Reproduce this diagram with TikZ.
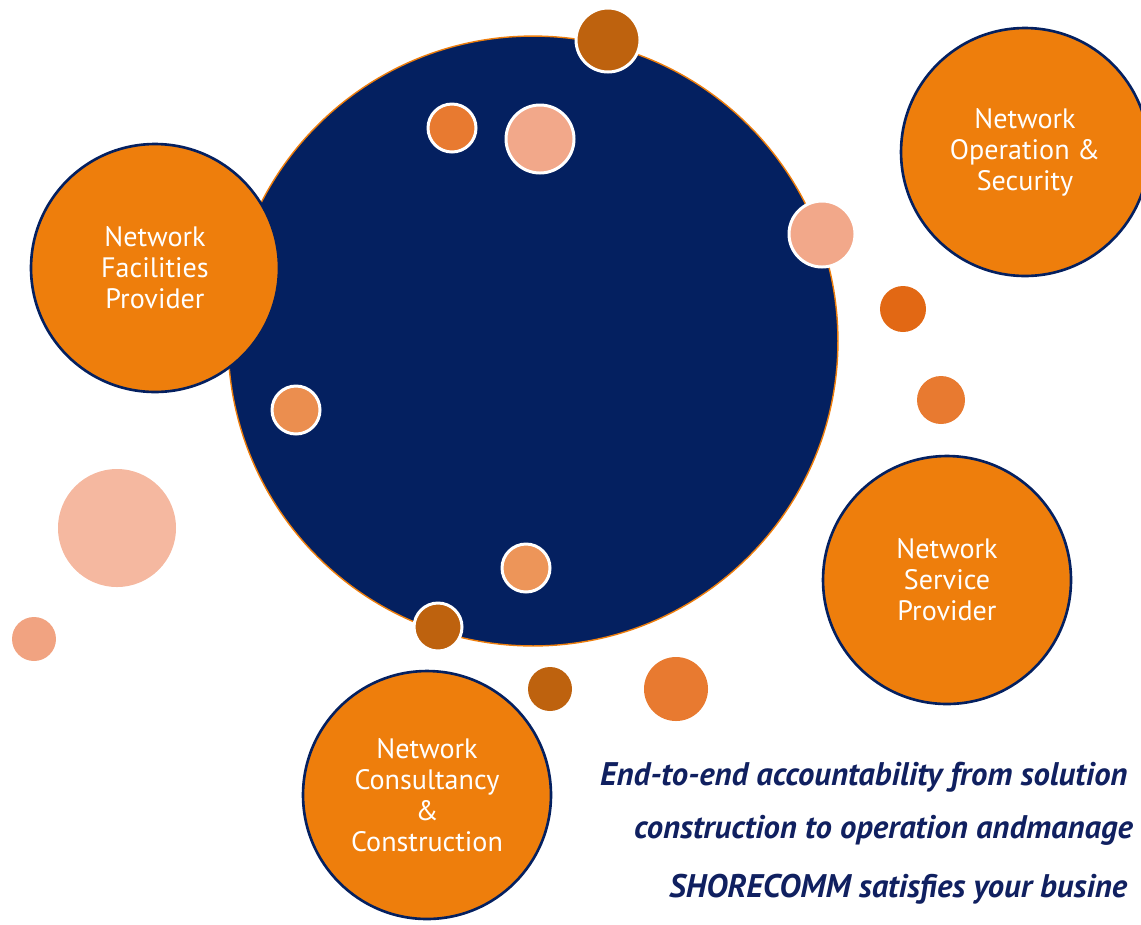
\documentclass[tikz,border=0pt]{standalone}
\usepackage{fontspec}
\setmainfont{PT Sans}
\usepackage{tikz}
\usetikzlibrary{positioning}

\definecolor{navy}{RGB}{4,32,96}
\definecolor{textnavy}{RGB}{16,32,96}
\definecolor{sorange}{RGB}{238,126,12}
\definecolor{brown}{RGB}{190,98,14}
\definecolor{midorange}{RGB}{232,122,48}
\definecolor{deeporange}{RGB}{226,104,20}
\definecolor{salmon}{RGB}{242,168,138}
\definecolor{pale}{RGB}{245,184,160}

\begin{document}
\begin{tikzpicture}[
    x=0.02cm, y=-0.02cm,
    hub/.style={circle, fill=navy, draw=sorange, line width=0.8pt,
                minimum size=12.2cm, inner sep=0pt},
    service/.style={circle, fill=sorange, draw=navy, line width=1.5pt,
                    minimum size=4.96cm, inner sep=0pt, align=center,
                    text=white, font=\fontsize{16}{17.6}\selectfont},
    bubble/.style={circle, draw=white, line width=1.7pt, inner sep=0pt},
    spot/.style={circle, inner sep=0pt},
    slogan/.style={anchor=base west, text=textnavy,
                   font=\fontsize{18.6}{20}\selectfont\bfseries\itshape}
]
\clip (0,0) rectangle (1141,924);

% Central hub
\node[hub] (hub) at (533,341) {};

% Service circles
\node[service] (nfp) at (155,268) {Network\\Facilities\\Provider};
\node[service] (nos) at (1025,152) {Network\\Operation \&\\Security};
\node[service] (nsp) at (947,580) {Network\\Service\\Provider};
\node[service] (ncc) at (427,795) {Network\\Consultancy\\\&\\Construction};

% Bubbles on and around the hub (x/y/diameter/colour/style)
\foreach \px/\py/\d/\c/\s [count=\i] in {
    608/40/64/brown/bubble,
    452/128/48/midorange/bubble,
    540/139/68/salmon/bubble,
    822/234/66/salmon/bubble,
    296/410/48/midorange!85!white/bubble,
    526/568/48/midorange!80!white/bubble,
    438/627/48/brown/bubble,
    903/309/46/deeporange/spot,
    941/400/48/midorange/spot,
    117/528/118/pale/spot,
    34/639/44/salmon!90!midorange/spot,
    550/689/44/brown/spot,
    676/689/64/midorange/spot}
  \node[\s, fill=\c, minimum size=\d*0.02cm] (b\i) at (\px,\py) {};

% Slogan
\node[slogan] (s1) at (594,785) {End-to-end accountability from solution};
\node[slogan] (s2) at (628,838) {construction to operation andmanage};
\node[slogan] (s3) at (663,897) {SHORECOMM satisfies your busine};
\end{tikzpicture}
\end{document}
